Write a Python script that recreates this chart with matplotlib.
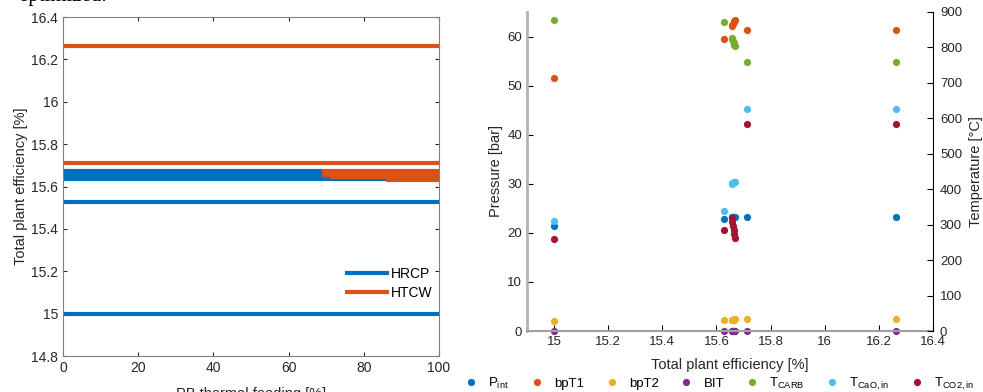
import numpy as np
import matplotlib
matplotlib.use("Agg")
from matplotlib import pyplot as plt
from matplotlib.lines import Line2D

plt.rcParams['font.family'] = ['Liberation Sans', 'DejaVu Sans']
plt.rcParams['font.size'] = 9.5

# ---- left chart: efficiency vs PB thermal feeding ----
hrcp_eff = [15.0, 15.525, 15.672, 15.662, 15.655, 15.645, 15.635]
hrcp_start = [0, 0, 0, 0, 0, 0, 0]
hrcp_end = [100, 100, 69, 69, 69, 71, 86]
htcw_eff = [16.262, 15.712, 15.672, 15.662, 15.655, 15.645, 15.632]
htcw_start = [0, 0, 69, 69, 69, 71, 86]
htcw_end = [100, 100, 100, 100, 100, 100, 100]

# ---- right chart: pressures / temperatures vs efficiency ----
eff = [15.0, 15.628, 15.657, 15.659, 15.661, 15.663, 15.665, 15.667, 15.712, 16.263]
p_int = [21.3, 22.8, 23.2, 23.2, 23.2, 23.3, 23.3, 23.3, 23.2, 23.2]
bpT1 = [51.6, 59.4, 62.2, 62.4, 62.6, 62.9, 63.1, 63.3, 61.4, 61.4]
bpT2 = [2.1, 2.2, 2.3, 2.3, 2.3, 2.3, 2.4, 2.4, 2.4, 2.4]
bit = [0, 0, 0, 0, 0, 0, 0, 0, 0, 0]
t_carb = [877, 873, 828, 823, 818, 813, 808, 803, 758, 758]
t_cao = [311, 338, 416, 417, 418, 419, 420, 421, 627, 627]
t_co2 = [260, 285, 318, 307, 296, 285, 273, 262, 585, 585]

c_blue = '#0072BD'
c_orange = '#D95319'
c_yellow = '#EDB120'
c_purple = '#7E2F8E'
c_green = '#77AC30'
c_cyan = '#4DBEEE'
c_red = '#A2142F'

fig = plt.figure(figsize=(9.83, 3.92), dpi=100)

# cut-off caption text at top-left of the page
fig.text(18/983, 1 - 1/392, 'optimized.', family=['Liberation Serif', 'DejaVu Serif'],
         fontsize=15, va='baseline', ha='left')

ax1 = fig.add_axes([63/983, 1-356/392, (439-63)/983, (356-17)/392])
lw = 3.0
for y, a, b in zip(hrcp_eff, hrcp_start, hrcp_end):
    ax1.plot([a, b], [y, y], color=c_blue, lw=lw, solid_capstyle='butt')
for y, a, b in zip(htcw_eff, htcw_start, htcw_end):
    ax1.plot([a, b], [y, y], color=c_orange, lw=lw, solid_capstyle='butt')
ax1.set_xlim(0, 100)
ax1.set_ylim(14.8, 16.4)
ax1.set_xticks([0, 20, 40, 60, 80, 100])
ax1.set_yticks(np.arange(14.8, 16.41, 0.2))
ax1.set_yticklabels(['14.8', '15', '15.2', '15.4', '15.6', '15.8', '16', '16.2', '16.4'])
ax1.tick_params(direction='in', top=True, right=True, length=3, colors='#262626',
                labelsize=10)
for s in ax1.spines.values():
    s.set_color('#808080')
ax1.set_ylabel('Total plant efficiency [%]', fontsize=10.5, color='#262626', labelpad=2)
ax1.set_xlabel('PB thermal feeding [%]', fontsize=10.5, color='#262626', labelpad=9)
leg_h = [Line2D([], [], color=c_blue, lw=lw), Line2D([], [], color=c_orange, lw=lw)]
ax1.legend(leg_h, ['HRCP', 'HTCW'], loc='center left', bbox_to_anchor=(0.755, 0.215),
           frameon=False, handlelength=2.9, handletextpad=0.25, labelspacing=0.35,
           fontsize=10, borderaxespad=0, borderpad=0)

# right chart
ax2 = fig.add_axes([527/983, 1-331/392, (933-527)/983, (331-12)/392])
ax3 = ax2.twinx()
ms = 5.2
ax2.plot(eff, p_int, 'o', color=c_blue, ms=ms, mec='none')
ax2.plot(eff, bpT1, 'o', color=c_orange, ms=ms, mec='none')
ax2.plot(eff, bpT2, 'o', color=c_yellow, ms=ms, mec='none')
ax2.plot(eff, bit, 'o', color=c_purple, ms=ms, mec='none', clip_on=False)
ax3.plot(eff, t_carb, 'o', color=c_green, ms=ms, mec='none')
ax3.plot(eff, t_cao, 'o', color=c_cyan, ms=ms, mec='none')
ax3.plot(eff, t_co2, 'o', color=c_red, ms=ms, mec='none')
ax2.set_xlim(14.9, 16.4)
ax2.set_ylim(0, 65)
ax3.set_ylim(0, 900)
ax2.set_xticks(np.arange(15.0, 16.41, 0.2))
ax2.set_xticklabels(['15', '15.2', '15.4', '15.6', '15.8', '16', '16.2', '16.4'])
ax2.set_yticks([0, 10, 20, 30, 40, 50, 60])
ax3.set_yticks(np.arange(0, 901, 100))
for ax in (ax2, ax3):
    ax.spines['top'].set_visible(False)
ax2.spines['right'].set_visible(False)
ax3.spines['left'].set_visible(False)
ax3.spines['bottom'].set_visible(False)
ax2.spines['left'].set_color('#b3b3b3')
ax2.spines['left'].set_linewidth(2)
ax2.spines['bottom'].set_color('#a0a0a0')
ax2.spines['bottom'].set_linewidth(1.5)
ax3.spines['right'].set_color('black')
ax2.tick_params(direction='in', length=4, colors='black', labelcolor='#262626', labelsize=9.5)
ax3.tick_params(direction='in', length=4, colors='black', labelcolor='#262626', labelsize=9.5,
                pad=5)
ax2.set_xlabel('Total plant efficiency [%]', fontsize=10.5, color='#262626', labelpad=7)
ax2.set_ylabel('Pressure [bar]', fontsize=10.5, color='#262626', labelpad=3)
ax3.set_ylabel('Temperature [°C]', fontsize=10.5, color='#262626', labelpad=5)

labels = ['P$_{\\mathregular{int}}$', 'bpT1', 'bpT2', 'BIT', 'T$_{\\mathregular{CARB}}$',
          'T$_{\\mathregular{CaO,in}}$', 'T$_{\\mathregular{CO2,in}}$']
colors = [c_blue, c_orange, c_yellow, c_purple, c_green, c_cyan, c_red]
handles = [Line2D([], [], ls='none', marker='o', color=c, mec='none', ms=ms) for c in colors]
fig.legend(handles, labels, loc='center left', bbox_to_anchor=(458/983, 1-384/392),
           ncol=7, frameon=False, handlelength=2, handletextpad=0.3, columnspacing=1.1,
           borderpad=0, borderaxespad=0, fontsize=9.5)

fig.savefig('out.png', dpi=100)
